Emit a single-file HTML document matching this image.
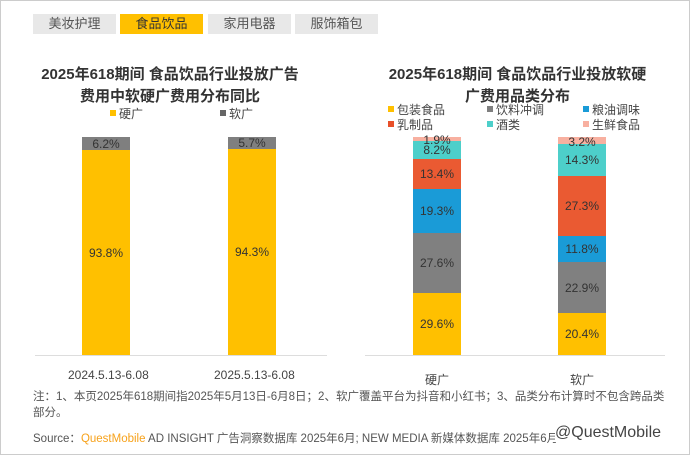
<!DOCTYPE html>
<html><head><meta charset="utf-8"><style>
body{margin:0;width:690px;height:455px;background:#fff;overflow:hidden;font-family:"Liberation Sans","Noto Sans CJK SC",sans-serif;position:relative}
.b{position:absolute}
.tab{position:absolute;top:14px;height:20px;width:83px;background:#e8e8e8;color:#555;font-size:13px;text-align:center;line-height:20px}
.seg{position:absolute;left:0;width:48px;display:flex;align-items:center;justify-content:center;font-size:12px;color:#333}
.t{position:absolute;font-size:15px;font-weight:bold;color:#333;text-align:center;line-height:22px}
.lg{position:absolute;font-size:12px;color:#444;white-space:nowrap}
.lg i{display:inline-block;width:6px;height:6px;margin-right:3px;vertical-align:2px}
</style></head><body>
<div class="b" style="left:0;top:0;width:688px;height:453px;border:1px solid #ccc"></div>
<div class="tab" style="left:33px">美妆护理</div>
<div class="tab" style="left:120px;background:#ffc000;color:#333">食品饮品</div>
<div class="tab" style="left:208px">家用电器</div>
<div class="tab" style="left:295px">服饰箱包</div>

<div class="t" style="left:20px;width:300px;top:64px">2025年618期间 食品饮品行业投放广告<br>费用中软硬广费用分布同比</div>
<div class="lg" style="left:110px;top:105px"><i style="background:#ffc000"></i>硬广</div>
<div class="lg" style="left:220px;top:105px"><i style="background:#666"></i>软广</div>

<div class="b" style="left:82px;top:137px;width:48px;height:218px">
<div class="seg" style="top:0;height:13px;background:#7f7f7f">6.2%</div>
<div class="seg" style="top:13px;height:205px;background:#ffc000">93.8%</div></div>
<div class="b" style="left:228px;top:137px;width:48px;height:218px">
<div class="seg" style="top:0;height:12px;background:#7f7f7f">5.7%</div>
<div class="seg" style="top:12px;height:206px;background:#ffc000">94.3%</div></div>
<div class="b" style="left:35px;top:355px;width:292px;height:1px;background:#ddd"></div>
<div class="lg" style="left:68px;top:368px">2024.5.13-6.08</div>
<div class="lg" style="left:214px;top:368px">2025.5.13-6.08</div>

<div class="t" style="left:365px;width:305px;top:64px">2025年618期间 食品饮品行业投放软硬<br>广费用品类分布</div>
<div class="lg" style="left:388px;top:101px"><i style="background:#ffc000"></i>包装食品</div>
<div class="lg" style="left:487px;top:101px"><i style="background:#7f7f7f"></i>饮料冲调</div>
<div class="lg" style="left:583px;top:101px"><i style="background:#1a9bd7"></i>粮油调味</div>
<div class="lg" style="left:388px;top:116px"><i style="background:#e8502a"></i>乳制品</div>
<div class="lg" style="left:487px;top:116px"><i style="background:#4dcfca"></i>酒类</div>
<div class="lg" style="left:583px;top:116px"><i style="background:#f8b0a0"></i>生鲜食品</div>

<div class="b" style="left:413px;top:137px;width:48px;height:218px">
<div class="seg" style="top:0;height:4px;background:#f8b0a0"></div>
<div class="seg" style="top:4px;height:18px;background:#4dcfca">8.2%</div>
<div class="seg" style="top:22px;height:30px;background:#ea5a32">13.4%</div>
<div class="seg" style="top:52px;height:44px;background:#1a9bd7">19.3%</div>
<div class="seg" style="top:96px;height:60px;background:#808080">27.6%</div>
<div class="seg" style="top:156px;height:62px;background:#ffc000">29.6%</div>
<div class="seg" style="top:-3px;height:12px;">1.9%</div></div>
<div class="b" style="left:558px;top:137px;width:48px;height:218px">
<div class="seg" style="top:0;height:7px;background:#f8b0a0"></div>
<div class="seg" style="top:7px;height:32px;background:#4dcfca">14.3%</div>
<div class="seg" style="top:39px;height:60px;background:#ea5a32">27.3%</div>
<div class="seg" style="top:99px;height:26px;background:#1a9bd7">11.8%</div>
<div class="seg" style="top:125px;height:51px;background:#808080">22.9%</div>
<div class="seg" style="top:176px;height:42px;background:#ffc000">20.4%</div>
<div class="seg" style="top:-1px;height:12px;">3.2%</div></div>
<div class="b" style="left:365px;top:355px;width:300px;height:1px;background:#ddd"></div>
<div class="lg" style="left:425px;top:371px">硬广</div>
<div class="lg" style="left:570px;top:371px">软广</div>

<div class="lg" style="left:33px;top:389px;font-size:11.5px;color:#555;line-height:16px;white-space:normal;width:640px">注：1、本页2025年618期间指2025年5月13日-6月8日；2、软广覆盖平台为抖音和小红书；3、品类分布计算时不包含跨品类部分。</div>
<div class="lg" style="left:33px;top:430px;font-size:11.5px;color:#555">Source：<span style="color:#f7a21b">QuestMobile</span> AD INSIGHT 广告洞察数据库 2025年6月; NEW MEDIA 新媒体数据库 2025年6月</div>
<div class="lg" style="left:555px;top:424px;font-size:16px;color:#444;background:#fff">@QuestMobile</div>
</body></html>
